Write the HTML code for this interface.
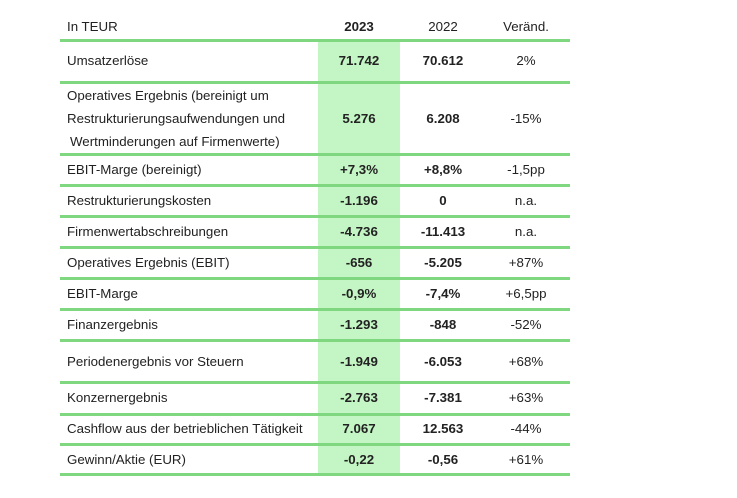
<!DOCTYPE html>
<html><head><meta charset="utf-8"><style>
body{margin:0;width:737px;height:498px;background:#fff;position:relative;overflow:hidden;font-family:"Liberation Sans",sans-serif;font-size:13.3px;color:#222}
.g{position:absolute;left:318px;width:82px;top:41px;height:433px;background:#c4f5c4}
.l{position:absolute;left:60px;width:510px;height:2.5px;background:#7fd77f}
.t{position:absolute;white-space:nowrap;line-height:14px}
.c{position:absolute;width:90px;text-align:center;line-height:14px}
.b{font-weight:bold}
</style></head><body>
<div class="g"></div>
<div class="l" style="top:39px"></div>
<div class="l" style="top:81px"></div>
<div class="l" style="top:153px"></div>
<div class="l" style="top:184px"></div>
<div class="l" style="top:215px"></div>
<div class="l" style="top:246px"></div>
<div class="l" style="top:277px"></div>
<div class="l" style="top:308px"></div>
<div class="l" style="top:339px"></div>
<div class="l" style="top:381px"></div>
<div class="l" style="top:413px"></div>
<div class="l" style="top:443px"></div>
<div class="l" style="top:473px"></div>

<div class="t" style="left:67px;top:20px">In TEUR</div>
<div class="c b" style="left:314px;top:20px">2023</div>
<div class="c" style="left:398px;top:20px">2022</div>
<div class="c" style="left:481px;top:20px">Veränd.</div>

<div class="t" style="left:67px;top:54px">Umsatzerlöse</div>
<div class="c b" style="left:314px;top:54px">71.742</div>
<div class="c b" style="left:398px;top:54px">70.612</div>
<div class="c" style="left:481px;top:54px">2%</div>

<div class="t" style="left:67px;top:89px">Operatives Ergebnis (bereinigt um</div>
<div class="t" style="left:67px;top:112px">Restrukturierungsaufwendungen und</div>
<div class="t" style="left:70px;top:135px">Wertminderungen auf Firmenwerte)</div>
<div class="c b" style="left:314px;top:112px">5.276</div>
<div class="c b" style="left:398px;top:112px">6.208</div>
<div class="c" style="left:481px;top:112px">-15%</div>

<div class="t" style="left:67px;top:163px">EBIT-Marge (bereinigt)</div>
<div class="c b" style="left:314px;top:163px">+7,3%</div>
<div class="c b" style="left:398px;top:163px">+8,8%</div>
<div class="c" style="left:481px;top:163px">-1,5pp</div>

<div class="t" style="left:67px;top:194px">Restrukturierungskosten</div>
<div class="c b" style="left:314px;top:194px">-1.196</div>
<div class="c b" style="left:398px;top:194px">0</div>
<div class="c" style="left:481px;top:194px">n.a.</div>

<div class="t" style="left:67px;top:225px">Firmenwertabschreibungen</div>
<div class="c b" style="left:314px;top:225px">-4.736</div>
<div class="c b" style="left:398px;top:225px">-11.413</div>
<div class="c" style="left:481px;top:225px">n.a.</div>

<div class="t" style="left:67px;top:256px">Operatives Ergebnis (EBIT)</div>
<div class="c b" style="left:314px;top:256px">-656</div>
<div class="c b" style="left:398px;top:256px">-5.205</div>
<div class="c" style="left:481px;top:256px">+87%</div>

<div class="t" style="left:67px;top:287px">EBIT-Marge</div>
<div class="c b" style="left:314px;top:287px">-0,9%</div>
<div class="c b" style="left:398px;top:287px">-7,4%</div>
<div class="c" style="left:481px;top:287px">+6,5pp</div>

<div class="t" style="left:67px;top:318px">Finanzergebnis</div>
<div class="c b" style="left:314px;top:318px">-1.293</div>
<div class="c b" style="left:398px;top:318px">-848</div>
<div class="c" style="left:481px;top:318px">-52%</div>

<div class="t" style="left:67px;top:355px">Periodenergebnis vor Steuern</div>
<div class="c b" style="left:314px;top:355px">-1.949</div>
<div class="c b" style="left:398px;top:355px">-6.053</div>
<div class="c" style="left:481px;top:355px">+68%</div>

<div class="t" style="left:67px;top:391px">Konzernergebnis</div>
<div class="c b" style="left:314px;top:391px">-2.763</div>
<div class="c b" style="left:398px;top:391px">-7.381</div>
<div class="c" style="left:481px;top:391px">+63%</div>

<div class="t" style="left:67px;top:422px">Cashflow aus der betrieblichen Tätigkeit</div>
<div class="c b" style="left:314px;top:422px">7.067</div>
<div class="c b" style="left:398px;top:422px">12.563</div>
<div class="c" style="left:481px;top:422px">-44%</div>

<div class="t" style="left:67px;top:453px">Gewinn/Aktie (EUR)</div>
<div class="c b" style="left:314px;top:453px">-0,22</div>
<div class="c b" style="left:398px;top:453px">-0,56</div>
<div class="c" style="left:481px;top:453px">+61%</div>
</body></html>
